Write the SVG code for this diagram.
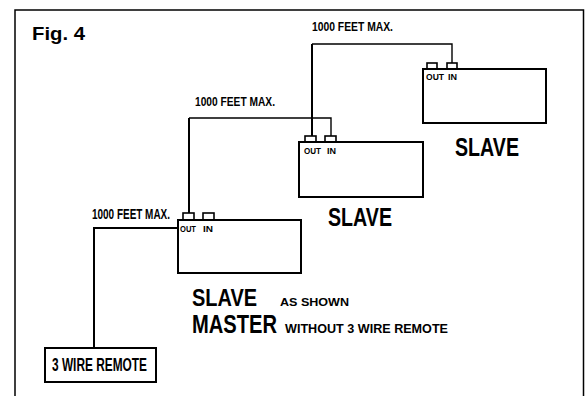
<svg xmlns="http://www.w3.org/2000/svg" width="586" height="396" viewBox="0 0 586 396">
<style>
.t{font-family:"Liberation Sans",Arial,sans-serif;font-weight:bold;fill:#000}
.box{fill:#fff;stroke:#000;stroke-width:2}
.con{fill:#fff;stroke:#000;stroke-width:1.6}
.w{fill:none;stroke:#000;stroke-width:1.4}
.wt{fill:none;stroke:#000;stroke-width:2}
.frame{fill:none;stroke:#000;stroke-width:1.5}
</style>
<rect width="586" height="396" fill="#fff"/>
<path class="frame" d="M15,396 V10 H583.5 V396"/>
<text class="t" x="32" y="40" font-size="19" textLength="53" lengthAdjust="spacingAndGlyphs">Fig. 4</text>

<g id="connectors">
  <path class="w" d="M452,63 V44 H312"/>
  <path class="wt" d="M312,44 V136"/>
  <path class="w" d="M331,136 V118 H189"/>
  <path class="wt" d="M189,118 V213"/>
  <path class="wt" d="M178,228 H94 V348"/>
  <text class="t" x="312" y="31" font-size="13" textLength="81" lengthAdjust="spacingAndGlyphs">1000 FEET MAX.</text>
  <text class="t" x="195" y="105.5" font-size="13.5" textLength="80" lengthAdjust="spacingAndGlyphs">1000 FEET MAX.</text>
  <text class="t" x="92" y="218.5" font-size="14" textLength="78" lengthAdjust="spacingAndGlyphs">1000 FEET MAX.</text>
</g>

<g id="slave3">
  <rect class="con" x="427" y="63" width="10" height="6"/>
  <rect class="con" x="447" y="63" width="10" height="6"/>
  <rect class="box" x="423" y="69" width="123" height="54"/>
  <text class="t" x="426" y="80" font-size="9.5" textLength="18" lengthAdjust="spacingAndGlyphs">OUT</text>
  <text class="t" x="448" y="80" font-size="9.5" textLength="9" lengthAdjust="spacingAndGlyphs">IN</text>
  <text class="t" x="455" y="156" font-size="25" textLength="64" lengthAdjust="spacingAndGlyphs">SLAVE</text>
</g>

<g id="slave2">
  <rect class="con" x="305" y="136" width="11" height="6"/>
  <rect class="con" x="325" y="136" width="11" height="6"/>
  <rect class="box" x="299" y="142" width="124" height="55"/>
  <text class="t" x="304" y="154" font-size="9.5" textLength="17" lengthAdjust="spacingAndGlyphs">OUT</text>
  <text class="t" x="327" y="154" font-size="9.5" textLength="9" lengthAdjust="spacingAndGlyphs">IN</text>
  <text class="t" x="328" y="226" font-size="26" textLength="64" lengthAdjust="spacingAndGlyphs">SLAVE</text>
</g>

<g id="master">
  <rect class="con" x="183" y="213" width="11" height="7"/>
  <rect class="con" x="203" y="213" width="11" height="7"/>
  <rect class="box" x="178" y="220" width="123" height="53"/>
  <text class="t" x="180" y="232" font-size="9.5" textLength="16" lengthAdjust="spacingAndGlyphs">OUT</text>
  <text class="t" x="203" y="232" font-size="9.5" textLength="10" lengthAdjust="spacingAndGlyphs">IN</text>
</g>

<g id="caption">
  <text class="t" x="192" y="306" font-size="24" textLength="65" lengthAdjust="spacingAndGlyphs">SLAVE</text>
  <text class="t" x="280" y="306" font-size="11.5" textLength="69" lengthAdjust="spacingAndGlyphs">AS SHOWN</text>
  <text class="t" x="192" y="332.5" font-size="25" textLength="85" lengthAdjust="spacingAndGlyphs">MASTER</text>
  <text class="t" x="285" y="332.5" font-size="12" textLength="163" lengthAdjust="spacingAndGlyphs">WITHOUT 3 WIRE REMOTE</text>
</g>

<g id="remote">
  <rect class="box" x="45" y="348" width="111" height="34"/>
  <text class="t" x="52" y="371" font-size="18" textLength="95" lengthAdjust="spacingAndGlyphs">3 WIRE REMOTE</text>
</g>
</svg>
